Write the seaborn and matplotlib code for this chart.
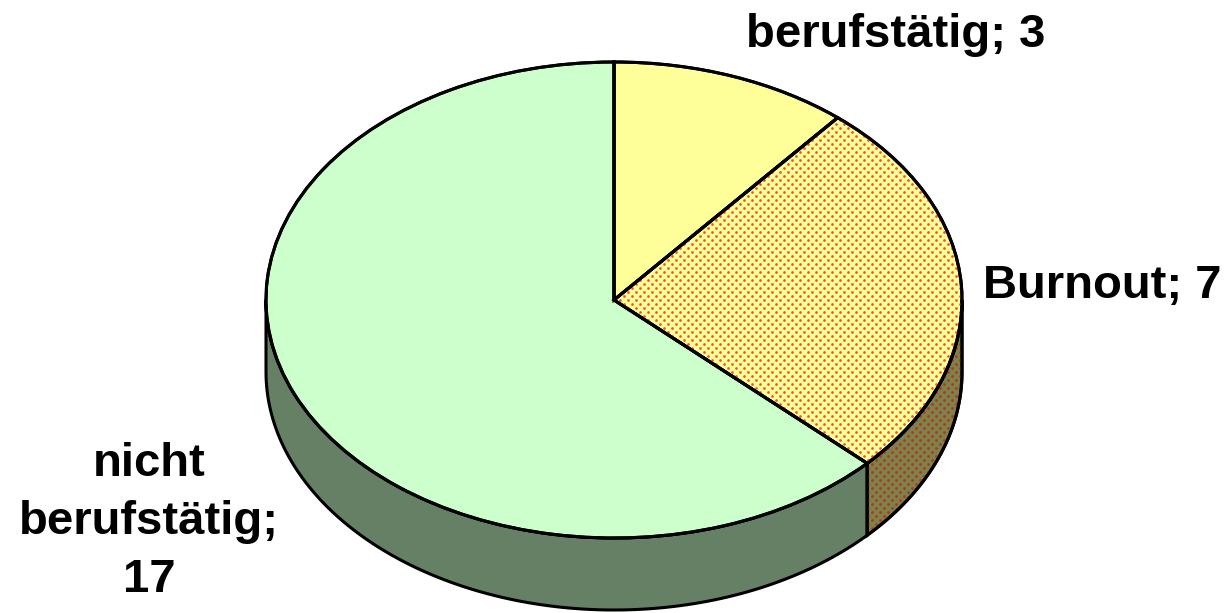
import numpy as np
import matplotlib
matplotlib.use("Agg")
import matplotlib.pyplot as plt
import seaborn as sns

categories = ["berufstätig", "Burnout", "nicht\nberufstätig;\n"]
values = [3, 7, 17]
top_colors = ["#FFFF99", "#FFFF99", "#CCFFCC"]
side_colors = ["#808050", "#80804D", "#668066"]

sns.set_theme(style="white")
plt.rcParams["font.family"] = ["Liberation Sans", "DejaVu Sans"]

W, H = 1227, 613
cx, cy, rx, ry, depth = 614, 300, 348, 238, 72

fig = plt.figure(figsize=(W / 100, H / 100), dpi=100)
ax = fig.add_axes([0, 0, 1, 1])

wedges, _ = ax.pie(values, colors=top_colors, startangle=90, counterclock=False,
                   wedgeprops={"edgecolor": "black", "linewidth": 2.2, "zorder": 3})
ax.set_aspect("auto")
ax.set_xlim(-cx / rx, (W - cx) / rx)
ax.set_ylim((cy - H) / ry, cy / ry)
ax.axis("off")

d = depth / ry
burnout_sides = []
for w, col in zip(wedges, side_colors):
    # rim of the slice that faces the viewer
    a = max(w.theta1, -180)
    b = min(w.theta2, 0)
    if b <= a:
        continue
    t = np.radians(np.linspace(a, b, 120))
    xs = np.r_[np.cos(t), np.cos(t[::-1])]
    ys = np.r_[np.sin(t), np.sin(t[::-1]) - d]
    side = plt.Polygon(np.c_[xs, ys], closed=True, facecolor=col,
                       edgecolor="black", linewidth=2.2, zorder=2)
    ax.add_patch(side)
    if w is wedges[1]:
        burnout_sides.append(side)

# dotted fill of the Burnout slice, 8 px staggered raster
gx, gy = np.meshgrid(np.arange(0, W, 8), np.arange(0, H, 4))
gx = gx + (np.arange(gy.shape[0])[:, None] % 2) * 4
dx = (gx.ravel() - cx) / rx
dy = (cy - gy.ravel()) / ry

dots = ax.scatter(dx, dy, s=3.8, color="#FF4A28", linewidths=0, zorder=4)
dots.set_clip_path(wedges[1])
dots_side = ax.scatter(dx, dy, s=3.8, color="#A83A18", linewidths=0, zorder=2.5)
dots_side.set_clip_path(burnout_sides[0])

# redraw slice outline above the dots
for w in wedges:
    outline = matplotlib.patches.Wedge(w.center, w.r, w.theta1, w.theta2, fill=False,
                                       edgecolor="black", linewidth=2.2, zorder=5)
    ax.add_patch(outline)
for side in burnout_sides:
    ax.add_patch(plt.Polygon(side.get_xy(), closed=True, fill=False,
                             edgecolor="black", linewidth=2.2, zorder=3))


def px(x, y):
    return (x - cx) / rx, (cy - y) / ry


label_pos = [(896, 35), (1102, 286), (149, 522)]
for cat, val, (lx, ly) in zip(categories, values, label_pos):
    sep = "" if cat.endswith("\n") else "; "
    ax.text(*px(lx, ly), f"{cat}{sep}{val}", ha="center", va="center", fontsize=34,
            fontweight="bold", color="black", linespacing=1.42, zorder=6)

fig.savefig("out.png", dpi=100, facecolor="white")
